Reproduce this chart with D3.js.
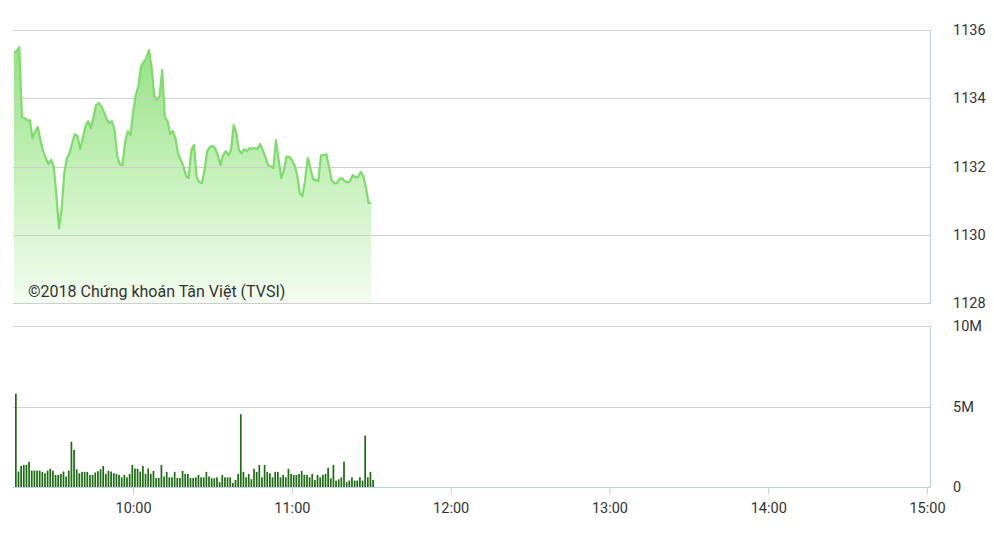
<!DOCTYPE html>
<html>
<head>
<meta charset="utf-8">
<script src="https://cdn.jsdelivr.net/npm/d3@7"></script>
<style>
  html, body { margin: 0; padding: 0; background: #ffffff; }
  svg { display: block; font-family: Roboto, "Noto Sans", sans-serif; }
</style>
</head>
<body>
<svg id="chart" width="994" height="558"></svg>
<script>
// ---------------- DATA ----------------
const sessionStart = "09:15";          // first minute of the session
const sessionEnd = "15:00";
const priceTicks = [1128, 1130, 1132, 1134, 1136];
const volumeTicks = [0, 5, 10];          // millions
const volumeTickLabels = ["0", "5M", "10M"];
const timeTickLabels = ["10:00", "11:00", "12:00", "13:00", "14:00", "15:00"];
const watermark = "©2018 Chứng khoán Tân Việt (TVSI)";

// index price, one value per minute from 09:15
const prices = [
  1135.35, 1135.38, 1135.50, 1133.45, 1133.42, 1133.36, 1133.35, 1132.83, 1133.01, 1133.16,
  1132.77, 1132.45, 1132.25, 1132.07, 1132.19, 1132.01, 1131.16, 1130.19, 1130.75, 1131.81,
  1132.25, 1132.39, 1132.69, 1132.95, 1132.89, 1132.51, 1132.83, 1133.18, 1133.33, 1133.13,
  1133.42, 1133.80, 1133.86, 1133.77, 1133.60, 1133.39, 1133.27, 1133.33, 1133.07, 1132.30,
  1132.07, 1132.04, 1132.72, 1133.04, 1132.92, 1133.57, 1134.09, 1134.36, 1134.94, 1135.06,
  1135.18, 1135.41, 1134.91, 1134.06, 1133.95, 1134.06, 1134.83, 1133.45, 1133.33, 1132.95,
  1133.04, 1132.83, 1132.36, 1132.19, 1132.01, 1131.72, 1131.66, 1132.48, 1132.63, 1131.69,
  1131.54, 1131.51, 1131.89, 1132.45, 1132.57, 1132.60, 1132.54, 1132.33, 1132.04, 1132.33,
  1132.45, 1132.33, 1132.48, 1133.21, 1132.98, 1132.48, 1132.39, 1132.51, 1132.45, 1132.54,
  1132.51, 1132.54, 1132.51, 1132.66, 1132.48, 1132.28, 1132.04, 1132.01, 1131.95, 1132.77,
  1132.19, 1131.66, 1131.89, 1132.30, 1132.28, 1132.19, 1132.04, 1131.75, 1131.22, 1131.13,
  1131.60, 1132.25, 1131.95, 1131.63, 1131.60, 1131.57, 1132.33, 1132.33, 1132.36, 1132.01,
  1131.60, 1131.51, 1131.51, 1131.63, 1131.66, 1131.57, 1131.54, 1131.57, 1131.75, 1131.69,
  1131.69, 1131.84, 1131.72, 1131.37, 1130.93, 1130.93
];

// volume in millions, one bar per minute from 09:15
const volumes = [
  5.8, 0.96, 1.31, 1.37, 1.37, 1.56, 1.02, 1.02, 1.02, 1.02,
  0.94, 0.85, 1.02, 1.13, 1.02, 0.75, 0.75, 0.81, 0.96, 0.65,
  1.02, 2.81, 2.31, 1.10, 0.85, 0.94, 0.94, 0.94, 0.75, 0.75,
  0.90, 0.98, 1.10, 1.31, 0.81, 1.00, 0.96, 0.85, 0.81, 0.75,
  0.60, 0.75, 0.60, 0.81, 1.37, 1.15, 1.13, 0.96, 1.31, 0.81,
  1.15, 0.81, 1.00, 0.56, 0.56, 1.37, 0.65, 0.94, 0.60, 0.60,
  0.94, 0.56, 0.56, 1.00, 0.81, 0.81, 0.56, 0.56, 0.60, 0.75,
  0.60, 0.60, 0.94, 0.65, 0.54, 0.54, 0.60, 0.30, 0.75, 0.60,
  0.60, 0.60, 0.25, 0.44, 0.81, 4.52, 0.94, 0.60, 0.81, 0.48,
  1.13, 0.94, 1.37, 0.60, 1.37, 0.94, 0.85, 0.60, 0.94, 0.94,
  0.60, 0.75, 0.60, 1.13, 0.81, 0.75, 0.75, 0.81, 1.00, 0.75,
  0.75, 0.60, 0.81, 0.44, 0.75, 0.60, 0.75, 0.81, 1.19, 0.54,
  1.37, 0.40, 0.48, 0.60, 1.58, 0.30, 0.40, 0.60, 0.40, 0.40,
  0.60, 0.40, 3.19, 0.60, 0.94, 0.44
];

// ---------------- CHART ----------------
const parse = d3.timeParse("%H:%M");
const t0 = parse(sessionStart);
const t1 = parse(sessionEnd);
const minuteTime = i => d3.timeMinute.offset(t0, i);

const priceData = prices.map((v, i) => ({ t: minuteTime(i), v }));
const volData = volumes.map((v, i) => ({ t: minuteTime(i), v }));

const svg = d3.select("#chart");
const left = 13, right = 930, xEnd = 927;
const pTop = 30, pBottom = 303;
const vTop = 326, vBottom = 487;

const x = d3.scaleTime().domain([t0, t1]).range([left + 1, xEnd]);
const yP = d3.scaleLinear().domain([1128, 1136]).range([pBottom, pTop]);
const yV = d3.scaleLinear().domain([0, 10]).range([vBottom, vTop]);

const gridColor = "#cfcfcf";
const frameColor = "#bfcedd";
const textColor = "#333333";

// gradient for the price area
const defs = svg.append("defs");
const grad = defs.append("linearGradient")
  .attr("id", "pgrad").attr("gradientUnits", "userSpaceOnUse")
  .attr("x1", 0).attr("x2", 0).attr("y1", pTop).attr("y2", pBottom);
grad.append("stop").attr("offset", "0%").attr("stop-color", "#8fe07c");
grad.append("stop").attr("offset", "55%").attr("stop-color", "#c8f1bd");
grad.append("stop").attr("offset", "100%").attr("stop-color", "#f3fcf0");

// price area
const area = d3.area().x(d => x(d.t)).y0(pBottom).y1(d => yP(d.v));
svg.append("path").datum(priceData).attr("d", area).attr("fill", "url(#pgrad)");

// price gridlines
svg.append("g").selectAll("line").data(priceTicks).join("line")
  .attr("x1", left).attr("x2", right)
  .attr("y1", d => Math.round(yP(d)) + 0.5).attr("y2", d => Math.round(yP(d)) + 0.5)
  .attr("stroke", gridColor).attr("stroke-width", 1);
// right frame of price panel
svg.append("line").attr("x1", right + 0.5).attr("x2", right + 0.5)
  .attr("y1", pTop).attr("y2", pBottom + 1).attr("stroke", frameColor);

// price line
const line = d3.line().x(d => x(d.t)).y(d => yP(d.v));
svg.append("path").datum(priceData).attr("d", line)
  .attr("fill", "none").attr("stroke", "#7ddd6b").attr("stroke-width", 2.2)
  .attr("stroke-linejoin", "round");

// watermark
svg.append("text").attr("x", 28).attr("y", 297)
  .attr("font-size", 16).attr("fill", textColor).text(watermark);

// price axis labels
const yAxisP = d3.axisRight(yP).tickValues(priceTicks).tickSize(0).tickPadding(23).tickFormat(d3.format("d"));
const gP = svg.append("g").attr("transform", `translate(${right},0)`).call(yAxisP);
gP.select(".domain").remove();
gP.selectAll("text").attr("font-size", 14.5).attr("fill", textColor).attr("font-family", "Roboto, sans-serif");

// volume gridlines
svg.append("g").selectAll("line").data(volumeTicks.filter(d => d > 0)).join("line")
  .attr("x1", left).attr("x2", right)
  .attr("y1", d => Math.round(yV(d)) + 0.5).attr("y2", d => Math.round(yV(d)) + 0.5)
  .attr("stroke", gridColor).attr("stroke-width", 1);
svg.append("line").attr("x1", right + 0.5).attr("x2", right + 0.5)
  .attr("y1", vTop).attr("y2", vBottom).attr("stroke", frameColor);

// volume bars
svg.append("g").selectAll("rect").data(volData).join("rect")
  .attr("x", d => x(d.t) + 1)
  .attr("width", 1.7)
  .attr("y", d => yV(d.v))
  .attr("height", d => vBottom - yV(d.v))
  .attr("fill", "#1d6b12");

// volume axis labels
const yAxisV = d3.axisRight(yV).tickValues(volumeTicks).tickSize(0).tickPadding(23)
  .tickFormat((d, i) => volumeTickLabels[i]);
const gV = svg.append("g").attr("transform", `translate(${right},0)`).call(yAxisV);
gV.select(".domain").remove();
gV.selectAll("text").attr("font-size", 14.5).attr("fill", textColor).attr("font-family", "Roboto, sans-serif");

// time axis
const tickTimes = timeTickLabels.map(parse);
const xAxis = d3.axisBottom(x).tickValues(tickTimes).tickSize(7).tickPadding(9)
  .tickFormat((d, i) => timeTickLabels[i]);
const gX = svg.append("g").attr("transform", `translate(0,${vBottom})`).call(xAxis);
gX.select(".domain").attr("d", `M${left},0.5H${right + 1}`).attr("stroke", frameColor);
gX.selectAll(".tick line").attr("stroke", frameColor);
gX.selectAll("text").attr("font-size", 14.5).attr("fill", textColor).attr("font-family", "Roboto, sans-serif");
</script>
</body>
</html>
